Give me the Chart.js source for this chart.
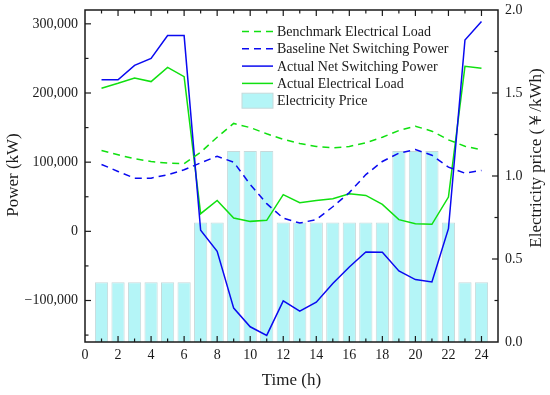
<!DOCTYPE html>
<html lang="en">
<head>
    <meta charset="UTF-8">
    <title>Power and Electricity Price</title>
    <script src="https://cdn.jsdelivr.net/npm/chart.js"></script>
    <style>
        body { margin: 0; background: #fff; }
    </style>
</head>
<body>
    <canvas id="powerChart" width="550" height="395"></canvas>
    <script>
        // hourly data
        const hours = [1, 2, 3, 4, 5, 6, 7, 8, 9, 10, 11, 12, 13, 14, 15, 16, 17, 18, 19, 20, 21, 22, 23, 24];
        const benchmarkLoad = [116900, 110700, 104900, 101000, 98600, 97700, 114400, 136000, 156000, 150000, 141000, 133000,
                               127000, 122700, 120700, 122700, 128000, 136100, 145700, 152000, 144800, 132300, 123100, 117900];
        const baselineNet = [96700, 86600, 76900, 76900, 81800, 89000, 99000, 108500, 100000, 67800, 40000, 19000,
                             12000, 17000, 35500, 56000, 82000, 101000, 113000, 118300, 110000, 92800, 84100, 88000];
        const actualNet = [219000, 219000, 240000, 250000, 283000, 283000, 1500, -29000, -111000, -138000, -150500, -100500,
                           -115500, -102500, -75500, -51500, -29800, -30300, -57300, -69700, -73100, 3800, 276600, 303500];
        const actualLoad = [206800, 214000, 221800, 216500, 237100, 223700, 25500, 44700, 19200, 14400, 15900, 53000,
                            41400, 44700, 47200, 54400, 51900, 39000, 16900, 11100, 10100, 49500, 238600, 235700];
        const price = [0.36, 0.36, 0.36, 0.36, 0.36, 0.36, 0.72, 0.72, 1.15, 1.15, 1.15, 0.72,
                       0.72, 0.72, 0.72, 0.72, 0.72, 0.72, 1.15, 1.15, 1.15, 0.72, 0.36, 0.36];

        const xTicks = [0, 2, 4, 6, 8, 10, 12, 14, 16, 18, 20, 22, 24];
        const powerTicks = [-100000, 0, 100000, 200000, 300000];
        const priceTicks = [0, 0.5, 1.0, 1.5, 2.0];

        const serif = '"Liberation Serif", "Times New Roman", serif';
        const ink = '#1a1a1a';
        const green = '#10e010';
        const blue = '#0a0af0';

        const pts = arr => hours.map((h, i) => ({ x: h, y: arr[i] }));
        const fmtPower = v => (v < 0 ? '\u2212' : '') + Math.abs(v).toLocaleString('en-US');
        const noPad = s => { s.paddingTop = 0; s.paddingBottom = 0; s.paddingLeft = 0; s.paddingRight = 0; };

        // frame, inward ticks, axis titles and the legend
        const decorations = {
            id: 'decorations',
            afterDraw(chart) {
                const { ctx, chartArea: a, scales } = chart;
                const x = scales.x, y = scales.y, y1 = scales.y1;
                ctx.save();
                ctx.strokeStyle = ink;
                ctx.lineWidth = 1.5;
                ctx.strokeRect(a.left, a.top, a.right - a.left, a.bottom - a.top);

                ctx.lineWidth = 1.2;
                const seg = (x0, y0, x1, y1_) => {
                    ctx.beginPath(); ctx.moveTo(x0, y0); ctx.lineTo(x1, y1_); ctx.stroke();
                };
                for (let h = 1; h <= 24; h++) {
                    const px = x.getPixelForValue(h);
                    const len = h % 2 === 0 ? 6 : 3.5;
                    seg(px, a.bottom, px, a.bottom - len);
                    seg(px, a.top, px, a.top + len);
                }
                for (let v = -150000; v <= 300000; v += 50000) {
                    const py = y.getPixelForValue(v);
                    const len = v % 100000 === 0 ? 6 : 3.5;
                    seg(a.left, py, a.left + len, py);
                }
                for (let v = 0.25; v < 2; v += 0.25) {
                    const py = y1.getPixelForValue(v);
                    const len = Math.abs(v * 2 - Math.round(v * 2)) < 1e-6 ? 6 : 3.5;
                    seg(a.right, py, a.right - len, py);
                }

                // axis titles
                ctx.fillStyle = ink;
                ctx.textAlign = 'center';
                ctx.textBaseline = 'middle';
                ctx.font = '17px ' + serif;
                ctx.fillText('Time (h)', (a.left + a.right) / 2, 381);
                ctx.save();
                ctx.translate(14, 175);
                ctx.rotate(-Math.PI / 2);
                ctx.fillText('Power (kW)', 0, 0);
                ctx.restore();
                ctx.save();
                ctx.translate(537, 158);
                ctx.rotate(-Math.PI / 2);
                ctx.fillText('Electricity price (\uFFE5/kWh)', 0, 0);
                ctx.restore();

                // legend
                const lx = 242, lw = 31, ly = 31.5, step = 17.3;
                ctx.font = '14px ' + serif;
                ctx.textAlign = 'left';
                chart.data.datasets.forEach((ds, i) => {
                    const cy = ly + i * step;
                    if (ds.type === 'bar') {
                        ctx.fillStyle = ds.backgroundColor;
                        ctx.fillRect(lx, cy - 7.5, lw, 15);
                        ctx.strokeStyle = ds.borderColor;
                        ctx.lineWidth = 1;
                        ctx.strokeRect(lx, cy - 7.5, lw, 15);
                    } else {
                        ctx.strokeStyle = ds.borderColor;
                        ctx.lineWidth = ds.borderWidth;
                        ctx.setLineDash(ds.borderDash || []);
                        ctx.beginPath(); ctx.moveTo(lx, cy); ctx.lineTo(lx + lw, cy); ctx.stroke();
                        ctx.setLineDash([]);
                    }
                    ctx.fillStyle = ink;
                    ctx.fillText(ds.label, lx + lw + 4, cy + 1);
                });
                ctx.restore();
            }
        };

        const ctx = document.getElementById('powerChart').getContext('2d');
        new Chart(ctx, {
            type: 'line',
            data: {
                datasets: [
                    { type: 'line', label: 'Benchmark Electrical Load', data: pts(benchmarkLoad), yAxisID: 'y',
                      borderColor: green, borderWidth: 1.5, borderDash: [7, 5], pointRadius: 0, order: 1 },
                    { type: 'line', label: 'Baseline Net Switching Power', data: pts(baselineNet), yAxisID: 'y',
                      borderColor: blue, borderWidth: 1.5, borderDash: [7, 5], pointRadius: 0, order: 1 },
                    { type: 'line', label: 'Actual Net Switching Power', data: pts(actualNet), yAxisID: 'y',
                      borderColor: blue, borderWidth: 1.5, pointRadius: 0, order: 1 },
                    { type: 'line', label: 'Actual Electrical Load', data: pts(actualLoad), yAxisID: 'y',
                      borderColor: green, borderWidth: 1.5, pointRadius: 0, order: 1 },
                    { type: 'bar', label: 'Electricity Price', data: pts(price), yAxisID: 'y1',
                      backgroundColor: '#b4f5f7', borderColor: '#c6d9da', borderWidth: 1,
                      barPercentage: 0.8, categoryPercentage: 1, order: 10 }
                ]
            },
            options: {
                responsive: false,
                devicePixelRatio: 1,
                animation: false,
                layout: { padding: { top: 10, left: 0, right: 0, bottom: 0 } },
                plugins: { legend: { display: false }, tooltip: { enabled: false } },
                scales: {
                    x: {
                        type: 'linear', min: 0, max: 25, offset: false,
                        grid: { display: false, drawTicks: false }, border: { display: false },
                        ticks: { font: { family: serif, size: 14 }, color: ink, padding: 5, maxRotation: 0 },
                        afterBuildTicks: s => { s.ticks = xTicks.map(v => ({ value: v })); },
                        afterFit: s => { s.height = 53; noPad(s); }
                    },
                    y: {
                        position: 'left', min: -160000, max: 320000,
                        grid: { display: false, drawTicks: false }, border: { display: false },
                        ticks: { font: { family: serif, size: 14 }, color: ink, padding: 7, callback: v => fmtPower(v) },
                        afterBuildTicks: s => { s.ticks = powerTicks.map(v => ({ value: v })); },
                        afterFit: s => { s.width = 85; noPad(s); }
                    },
                    y1: {
                        position: 'right', min: 0, max: 2,
                        grid: { display: false, drawTicks: false }, border: { display: false },
                        ticks: { font: { family: serif, size: 14 }, color: ink, padding: 7, callback: v => v.toFixed(1) },
                        afterBuildTicks: s => { s.ticks = priceTicks.map(v => ({ value: v })); },
                        afterFit: s => { s.width = 52; noPad(s); }
                    }
                }
            },
            plugins: [decorations]
        });
    </script>
</body>
</html>
